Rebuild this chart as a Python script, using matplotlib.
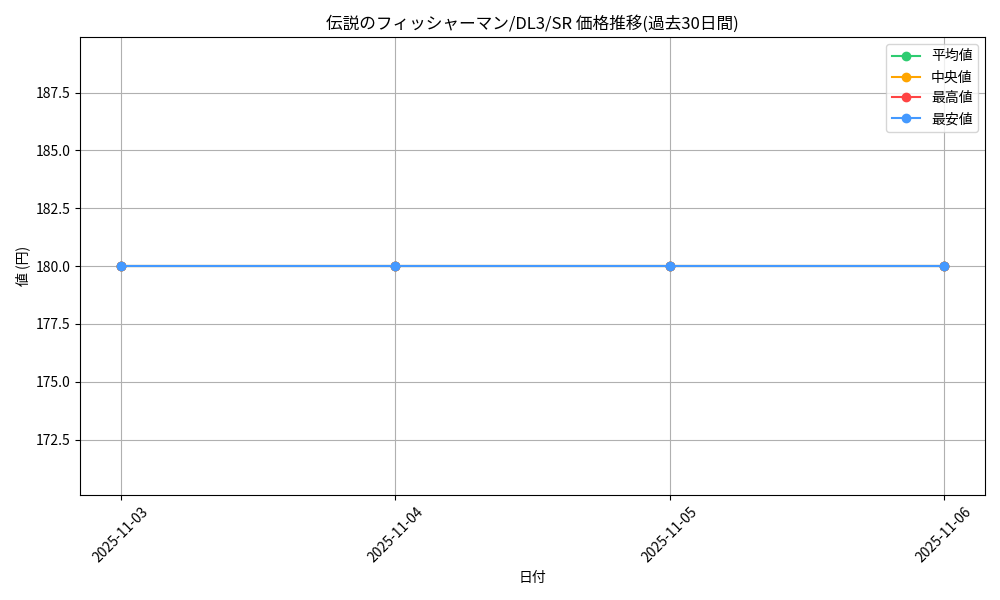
import matplotlib
matplotlib.use("Agg")
from matplotlib import pyplot as plt

plt.rcParams['font.family'] = ['Noto Sans CJK JP', 'DejaVu Sans']

dates = ['2025-11-03', '2025-11-04', '2025-11-05', '2025-11-06']
avg_price = [180, 180, 180, 180]
median_price = [180, 180, 180, 180]
max_price = [180, 180, 180, 180]
min_price = [180, 180, 180, 180]

fig, ax = plt.subplots(figsize=(10, 6), dpi=100)
ax.plot(dates, avg_price, marker='o', color='#2ecc71', label='平均値')
ax.plot(dates, median_price, marker='o', color='#ffa500', label='中央値')
ax.plot(dates, max_price, marker='o', color='#ff4444', label='最高値')
ax.plot(dates, min_price, marker='o', color='#4499ff', label='最安値')

ax.set_title('伝説のフィッシャーマン/DL3/SR 価格推移(過去30日間)')
ax.set_xlabel('日付')
ax.set_ylabel('値 (円)')
ax.grid(True)
ax.legend(loc='upper right')
plt.xticks(rotation=45)
plt.tight_layout()
plt.savefig('out.png')
